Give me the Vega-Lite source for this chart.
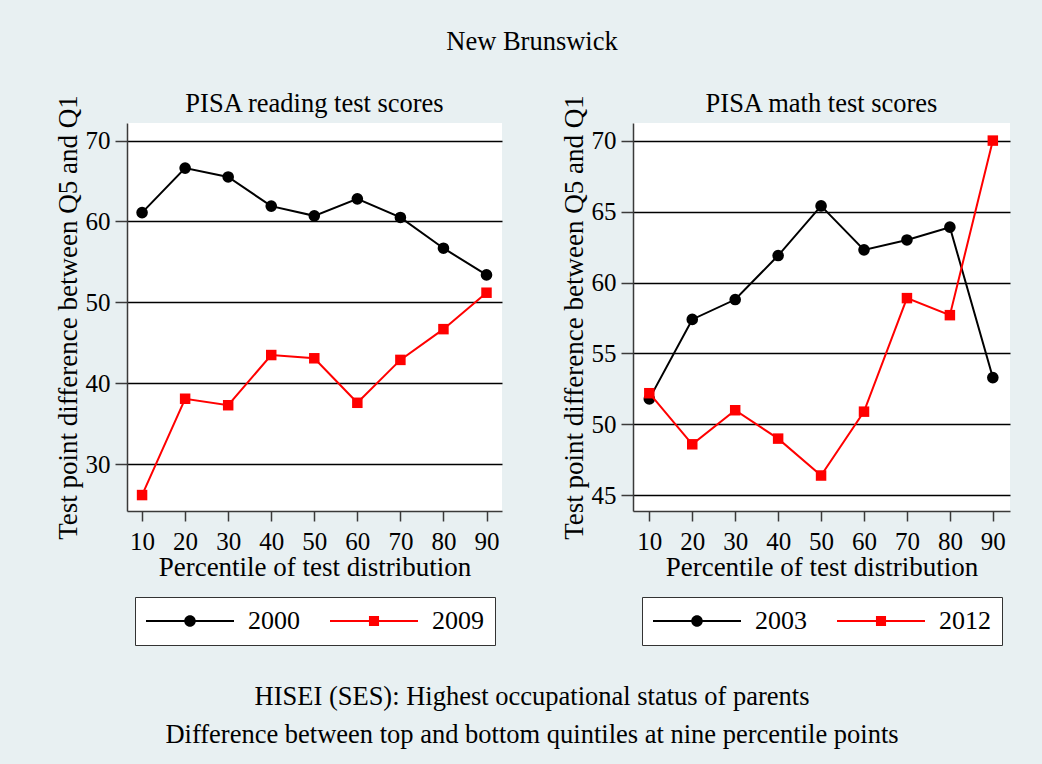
{
  "$schema": "https://vega.github.io/schema/vega-lite/v6.json",
  "background": "#e8f0f2",
  "padding": {"left": 54, "top": 28, "right": 33, "bottom": 18},
  "title": {"text": "New Brunswick", "anchor": "middle", "frame": "bounds", "offset": 36},
  "datasets": {
    "reading": [
      {"year": "2000", "pct": 10, "value": 61.1}, {"year": "2000", "pct": 20, "value": 66.6}, {"year": "2000", "pct": 30, "value": 65.5},
      {"year": "2000", "pct": 40, "value": 61.9}, {"year": "2000", "pct": 50, "value": 60.7}, {"year": "2000", "pct": 60, "value": 62.8},
      {"year": "2000", "pct": 70, "value": 60.5}, {"year": "2000", "pct": 80, "value": 56.7}, {"year": "2000", "pct": 90, "value": 53.4},
      {"year": "2009", "pct": 10, "value": 26.2}, {"year": "2009", "pct": 20, "value": 38.1}, {"year": "2009", "pct": 30, "value": 37.3},
      {"year": "2009", "pct": 40, "value": 43.5}, {"year": "2009", "pct": 50, "value": 43.1}, {"year": "2009", "pct": 60, "value": 37.6},
      {"year": "2009", "pct": 70, "value": 42.9}, {"year": "2009", "pct": 80, "value": 46.7}, {"year": "2009", "pct": 90, "value": 51.2}
    ],
    "math": [
      {"year": "2003", "pct": 10, "value": 51.8}, {"year": "2003", "pct": 20, "value": 57.4}, {"year": "2003", "pct": 30, "value": 58.8},
      {"year": "2003", "pct": 40, "value": 61.9}, {"year": "2003", "pct": 50, "value": 65.4}, {"year": "2003", "pct": 60, "value": 62.3},
      {"year": "2003", "pct": 70, "value": 63.0}, {"year": "2003", "pct": 80, "value": 63.9}, {"year": "2003", "pct": 90, "value": 53.3},
      {"year": "2012", "pct": 10, "value": 52.2}, {"year": "2012", "pct": 20, "value": 48.6}, {"year": "2012", "pct": 30, "value": 51.0},
      {"year": "2012", "pct": 40, "value": 49.0}, {"year": "2012", "pct": 50, "value": 46.4}, {"year": "2012", "pct": 60, "value": 50.9},
      {"year": "2012", "pct": 70, "value": 58.9}, {"year": "2012", "pct": 80, "value": 57.7}, {"year": "2012", "pct": 90, "value": 70.0}
    ]
  },
  "vconcat": [
    {
      "title": {
        "text": ["HISEI (SES): Highest occupational status of parents", "Difference between top and bottom quintiles at nine percentile points"],
        "orient": "bottom", "anchor": "middle", "frame": "bounds", "offset": 38, "lineHeight": 38
      },
      "hconcat": [
        {
          "width": 375, "height": 388,
          "title": {"text": "PISA reading test scores", "offset": 4, "dy": 27},
          "data": {"name": "reading"},
          "encoding": {
            "x": {"field": "pct", "type": "quantitative", "scale": {"domain": [6.5, 93.6], "nice": false, "zero": false},
                  "axis": {"values": [10, 20, 30, 40, 50, 60, 70, 80, 90], "title": "Percentile of test distribution", "grid": false}},
            "y": {"field": "value", "type": "quantitative", "scale": {"domain": [24.23, 72.17], "nice": false, "zero": false},
                  "axis": {"values": [30, 40, 50, 60, 70], "title": "Test point difference between Q5 and Q1", "grid": true, "tickSize": 12, "labelPadding": 5, "titlePadding": 3}}
          },
          "layer": [
            {"transform": [{"filter": "datum.year == '2000'"}], "mark": {"type": "line", "strokeWidth": 2, "color": "#000000"}},
            {"transform": [{"filter": "datum.year == '2000'"}],
             "mark": {"type": "point", "shape": "circle", "filled": true, "size": 135, "color": "#000000", "opacity": 1}},
            {"transform": [{"filter": "datum.year == '2009'"}], "mark": {"type": "line", "strokeWidth": 2, "color": "#ff0000"}},
            {"transform": [{"filter": "datum.year == '2009'"}],
             "mark": {"type": "point", "shape": "square", "filled": true, "size": 110, "color": "#ff0000", "opacity": 1}},
            {"transform": [{"filter": "datum.pct < 0"}],
             "mark": {"type": "point", "filled": true, "strokeWidth": 0, "opacity": 1},
             "encoding": {
               "color": {"field": "year", "type": "nominal", "scale": {"domain": ["2000", "2009"], "range": ["#000000", "#ff0000"]},
                        "legend": {"title": null, "orient": "none", "legendX": 8, "legendY": 474, "direction": "horizontal", "symbolSize": 256, "symbolStrokeWidth": 0, "symbolOpacity": 1, "symbolOffset": 31, "labelOffset": 45, "columnPadding": 30, "padding": 11}},
               "shape": {"field": "year", "type": "nominal", "scale": {"domain": ["2000", "2009"], "range": ["M-5.5,-0.125H5.5V0.125H-5.5ZM0.72,0A0.72,0.72,0,1,1,-0.72,0A0.72,0.72,0,1,1,0.72,0Z", "M-5.5,-0.125H5.5V0.125H-5.5ZM-0.63,-0.63H0.63V0.63H-0.63Z"]},
                        "legend": {"title": null, "orient": "none", "legendX": 8, "legendY": 474, "direction": "horizontal", "symbolSize": 256, "symbolStrokeWidth": 0, "symbolOpacity": 1, "symbolOffset": 31, "labelOffset": 45, "columnPadding": 30, "padding": 11}}
             }}
          ]
        },
        {
          "width": 377, "height": 388,
          "title": {"text": "PISA math test scores", "offset": 4, "dy": 27},
          "data": {"name": "math"},
          "encoding": {
            "x": {"field": "pct", "type": "quantitative", "scale": {"domain": [6.2, 94.0], "nice": false, "zero": false},
                  "axis": {"values": [10, 20, 30, 40, 50, 60, 70, 80, 90], "title": "Percentile of test distribution", "grid": false}},
            "y": {"field": "value", "type": "quantitative", "scale": {"domain": [43.9, 71.24], "nice": false, "zero": false},
                  "axis": {"values": [45, 50, 55, 60, 65, 70], "title": "Test point difference between Q5 and Q1", "grid": true, "tickSize": 12, "labelPadding": 5, "titlePadding": 3}}
          },
          "layer": [
            {"transform": [{"filter": "datum.year == '2003'"}], "mark": {"type": "line", "strokeWidth": 2, "color": "#000000"}},
            {"transform": [{"filter": "datum.year == '2003'"}],
             "mark": {"type": "point", "shape": "circle", "filled": true, "size": 135, "color": "#000000", "opacity": 1}},
            {"transform": [{"filter": "datum.year == '2012'"}], "mark": {"type": "line", "strokeWidth": 2, "color": "#ff0000"}},
            {"transform": [{"filter": "datum.year == '2012'"}],
             "mark": {"type": "point", "shape": "square", "filled": true, "size": 110, "color": "#ff0000", "opacity": 1}},
            {"transform": [{"filter": "datum.pct < 0"}],
             "mark": {"type": "point", "filled": true, "strokeWidth": 0, "opacity": 1},
             "encoding": {
               "color": {"field": "year", "type": "nominal", "scale": {"domain": ["2003", "2012"], "range": ["#000000", "#ff0000"]},
                        "legend": {"title": null, "orient": "none", "legendX": 9, "legendY": 474, "direction": "horizontal", "symbolSize": 256, "symbolStrokeWidth": 0, "symbolOpacity": 1, "symbolOffset": 31, "labelOffset": 45, "columnPadding": 30, "padding": 11}},
               "shape": {"field": "year", "type": "nominal", "scale": {"domain": ["2003", "2012"], "range": ["M-5.5,-0.125H5.5V0.125H-5.5ZM0.72,0A0.72,0.72,0,1,1,-0.72,0A0.72,0.72,0,1,1,0.72,0Z", "M-5.5,-0.125H5.5V0.125H-5.5ZM-0.63,-0.63H0.63V0.63H-0.63Z"]},
                        "legend": {"title": null, "orient": "none", "legendX": 9, "legendY": 474, "direction": "horizontal", "symbolSize": 256, "symbolStrokeWidth": 0, "symbolOpacity": 1, "symbolOffset": 31, "labelOffset": 45, "columnPadding": 30, "padding": 11}}
             }}
          ]
        }
      ],
      "spacing": 58,
      "resolve": {"scale": {"color": "independent", "shape": "independent"}, "legend": {"color": "independent", "shape": "independent"}}
    }
  ],
  "config": {
    "font": "Liberation Serif",
    "view": {"fill": "white", "stroke": null},
    "title": {"font": "Liberation Serif", "fontSize": 26.5, "fontWeight": "normal", "color": "black", "anchor": "middle"},
    "axis": {
      "labelFont": "Liberation Serif", "labelFontSize": 25, "labelColor": "black", "labelFlush": false,
      "titleFont": "Liberation Serif", "titleFontSize": 27, "titleFontWeight": "normal", "titleColor": "black",
      "domainColor": "#3a3a3a", "domainWidth": 1.5, "tickColor": "#3a3a3a", "tickWidth": 1.5,
      "gridColor": "black", "gridWidth": 1.3, "gridOpacity": 1
    },
    "axisX": {"tickSize": 10, "labelPadding": 8, "titlePadding": 0},
    "legend": {"labelFont": "Liberation Serif", "labelFontSize": 26, "labelColor": "black", "strokeColor": "#333333", "fillColor": "white", "strokeWidth": 1}
  }
}
